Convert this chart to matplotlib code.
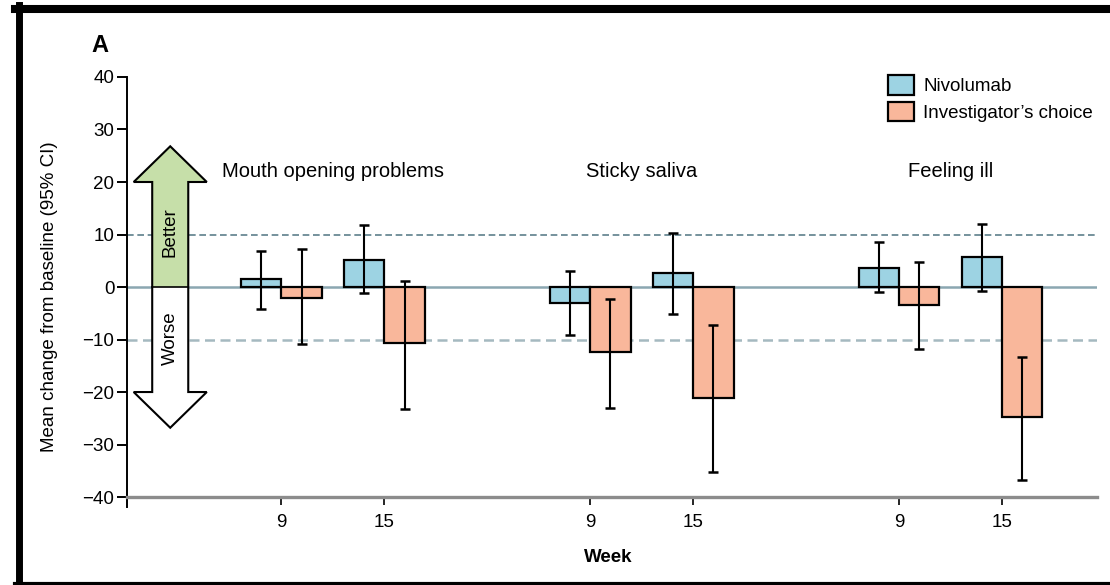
import numpy as np
import matplotlib
matplotlib.use("Agg")
import matplotlib.pyplot as plt
from matplotlib.patches import Polygon, Patch
from matplotlib.lines import Line2D

# -------------------------------------------------
# Data
# -------------------------------------------------
symptoms = ["Mouth opening problems", "Sticky saliva", "Feeling ill"]
weeks = ["9", "15"]

# order: symptom 1 wk9, wk15, symptom 2 wk9, wk15, ...
nivo_mean = [1.6, 5.2, -3.1, 2.7, 3.6, 5.7]
nivo_lo = [-4.1, -1.2, -9.2, -5.1, -1.0, -0.7]
nivo_hi = [6.8, 11.9, 3.1, 10.3, 8.6, 12.0]

ic_mean = [-2.0, -10.7, -12.3, -21.1, -3.5, -24.7]
ic_lo = [-10.8, -23.3, -23.1, -35.3, -11.8, -36.8]
ic_hi = [7.3, 1.1, -2.3, -7.2, 4.7, -13.3]

series_names = ["Nivolumab", "Investigator\u2019s choice"]
yticks = [-40, -30, -20, -10, 0, 10, 20, 30, 40]

BLUE = "#9dd3e3"
ORANGE = "#f9b79b"
GREEN = "#c6dfa9"

plt.rcParams["font.family"] = ["Liberation Sans", "DejaVu Sans"]


def make_chart(out_file):

    # -------------------------------------------------
    # 1. Figure and axes
    # -------------------------------------------------
    fig = plt.figure(figsize=(11.1, 5.85), dpi=100)
    ax = fig.add_axes([0.1144, 0.1333, 0.8739, 0.7351])

    n_groups = len(symptoms)
    pos = np.array([g * 3 + w for g in range(n_groups) for w in range(len(weeks))], dtype=float)
    width = 0.39

    # -------------------------------------------------
    # 2. Reference lines
    # -------------------------------------------------
    ax.axhline(0, color="#8ba7b1", lw=1.8, zorder=1)
    ax.axhline(10, color="#5d7f8b", lw=1.2, dashes=(4, 2.2), zorder=1)
    ax.axhline(-10, color="#a5b9c0", lw=1.8, dashes=(4, 2.2), zorder=1)

    # -------------------------------------------------
    # 3. Bars with 95% CI
    # -------------------------------------------------
    nivo_mean_a = np.array(nivo_mean)
    ic_mean_a = np.array(ic_mean)
    nivo_err = [nivo_mean_a - np.array(nivo_lo), np.array(nivo_hi) - nivo_mean_a]
    ic_err = [ic_mean_a - np.array(ic_lo), np.array(ic_hi) - ic_mean_a]

    ax.bar(pos - width / 2, nivo_mean_a, width, color=BLUE, edgecolor="black",
           linewidth=1.6, zorder=2)
    ax.bar(pos + width / 2, ic_mean_a, width, color=ORANGE, edgecolor="black",
           linewidth=1.6, zorder=2)
    ax.errorbar(pos - width / 2, nivo_mean_a, yerr=nivo_err, fmt="none", ecolor="black",
                elinewidth=1.5, capsize=3.6, capthick=1.8, zorder=3)
    ax.errorbar(pos + width / 2, ic_mean_a, yerr=ic_err, fmt="none", ecolor="black",
                elinewidth=1.5, capsize=3.6, capthick=1.8, zorder=3)

    # group titles
    for g, name in enumerate(symptoms):
        ax.text(g * 3 + 0.5, 22, name, ha="center", va="center", fontsize=14.5)

    # -------------------------------------------------
    # 4. Better / Worse arrows
    # -------------------------------------------------
    cx, shaft, head, base, tip = -1.08, 0.175, 0.355, 20, 26.8
    for sgn, fc in [(1, GREEN), (-1, "white")]:
        verts = [(cx - shaft, 0), (cx - shaft, sgn * base), (cx - head, sgn * base),
                 (cx, sgn * tip), (cx + head, sgn * base), (cx + shaft, sgn * base),
                 (cx + shaft, 0)]
        ax.add_patch(Polygon(verts, closed=False, facecolor=fc, edgecolor="black",
                             linewidth=1.5, zorder=4))
    ax.plot([cx - shaft, cx + shaft], [0, 0], color="black", lw=1.2, zorder=5)
    ax.text(cx, 10.5, "Better", rotation=90, ha="center", va="center", fontsize=13.5, zorder=5)
    ax.text(cx, -9.8, "Worse", rotation=90, ha="center", va="center", fontsize=13.5, zorder=5)

    # -------------------------------------------------
    # 5. Axes styling
    # -------------------------------------------------
    ax.set_xlim(-1.5, 7.92)
    ax.set_ylim(-41.9, 40)
    ax.set_yticks(yticks)
    ax.set_xticks(pos)
    ax.set_xticklabels(weeks * n_groups)
    ax.spines["top"].set_visible(False)
    ax.spines["right"].set_visible(False)
    ax.spines["bottom"].set_position(("data", -40))
    ax.spines["bottom"].set_color("#8c8c8c")
    ax.spines["bottom"].set_linewidth(2.4)
    ax.spines["left"].set_linewidth(1.4)
    ax.tick_params(axis="y", length=7, width=1.4, labelsize=13.5, pad=2)
    ax.tick_params(axis="x", length=6, width=1.2, labelsize=13.5, pad=6)

    ax.set_xlabel("Week", fontsize=13.5, fontweight="bold")
    ax.xaxis.set_label_coords(0.496, -0.098)
    ax.set_ylabel("Mean change from baseline (95% CI)", fontsize=13.5)
    ax.yaxis.set_label_coords(-0.071, 0.49)

    handles = [Patch(facecolor=BLUE, edgecolor="black", linewidth=1.6),
               Patch(facecolor=ORANGE, edgecolor="black", linewidth=1.6)]
    fig.legend(handles, series_names, loc="upper left", bbox_to_anchor=(0.793, 0.885),
               frameon=False, fontsize=13.5, handlelength=1.4, handleheight=1.25,
               handletextpad=0.5, labelspacing=0.35, borderaxespad=0)

    fig.text(100 / 1110, 1 - 45 / 585, "A", fontsize=17, fontweight="bold",
             ha="center", va="center")

    # -------------------------------------------------
    # 6. Black frame around the panel
    # -------------------------------------------------
    fig.add_artist(Line2D([15 / 1110, 1], [1 - 9 / 585] * 2, color="black", lw=5.8,
                          transform=fig.transFigure))
    fig.add_artist(Line2D([18.5 / 1110] * 2, [0, 1 - 5 / 585], color="black", lw=5.0,
                          transform=fig.transFigure))
    fig.add_artist(Line2D([15 / 1110, 1], [1 / 585] * 2, color="black", lw=3.0,
                          transform=fig.transFigure))

    fig.savefig(out_file, dpi=100)
    print("Saved to:", out_file)


# -------------------------------------------------
# MAIN PROGRAM
# -------------------------------------------------
if __name__ == "__main__":
    make_chart("out.png")
